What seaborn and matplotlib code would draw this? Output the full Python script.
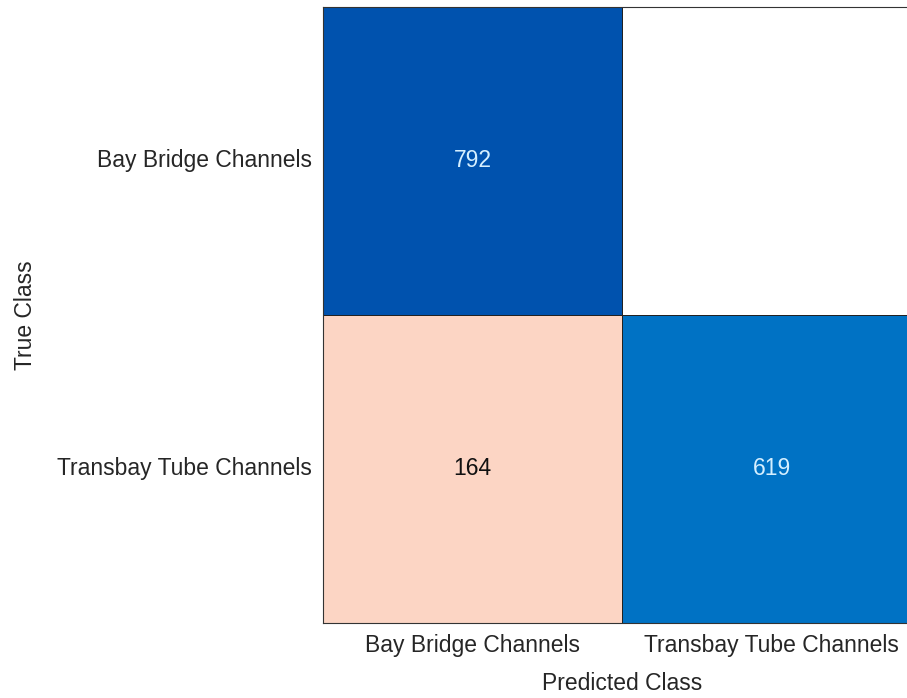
import numpy as np
import pandas as pd
import seaborn as sns
import matplotlib.pyplot as plt
from matplotlib.colors import LinearSegmentedColormap

# Confusion matrix values (rows = true class, cols = predicted class)
class_names = ['Bay Bridge Channels', 'Transbay Tube Channels']
counts = [[792, 0],
          [164, 619]]

plt.rcParams['font.family'] = ['Liberation Sans', 'DejaVu Sans']

cm = pd.DataFrame(counts, index=class_names, columns=class_names)
diag_mask = ~np.eye(2, dtype=bool)
off_mask = np.eye(2, dtype=bool)

# MATLAB-like confusionchart colours
blue_cmap = LinearSegmentedColormap.from_list(
    'diag', [(0, '#ffffff'), (619 / 792, '#0072c4'), (1, '#0052ae')])
peach_cmap = LinearSegmentedColormap.from_list(
    'off', [(0, '#ffffff'), (1, '#fcd5c4')])

fig = plt.figure(figsize=(9.07, 6.98), dpi=100)
ax = fig.add_axes([0.356, 0.108, 0.66, 0.882])

sns.heatmap(cm, mask=diag_mask, cmap=blue_cmap, vmin=0, vmax=792,
            annot=True, fmt='d', cbar=False, linewidths=0.5, linecolor='#222222',
            annot_kws={'color': '#d5efff', 'fontsize': 16.5}, ax=ax)
off_vals = cm.where(cm > 0)
sns.heatmap(off_vals, mask=off_mask, cmap=peach_cmap, vmin=0, vmax=164,
            annot=True, fmt='.0f', cbar=False, linewidths=0.5, linecolor='#222222',
            annot_kws={'color': '#111111', 'fontsize': 16.5}, ax=ax)

for side in ['top', 'bottom', 'left', 'right']:
    ax.spines[side].set_visible(True)
    ax.spines[side].set_color('#333333')
    ax.spines[side].set_linewidth(0.8)

ax.tick_params(length=0, labelsize=16.5, colors='#262626', pad=8)
ax.set_yticklabels(class_names, rotation=0)
ax.set_xticklabels(class_names, rotation=0)
ax.set_xlabel('Predicted Class', fontsize=16.5, color='#262626')
ax.set_ylabel('True Class', fontsize=16.5, color='#262626')
ax.xaxis.set_label_coords(0.5, -0.08)
ax.yaxis.set_label_coords(-0.478, 0.5)

fig.savefig('out.png', dpi=100, facecolor='white')
